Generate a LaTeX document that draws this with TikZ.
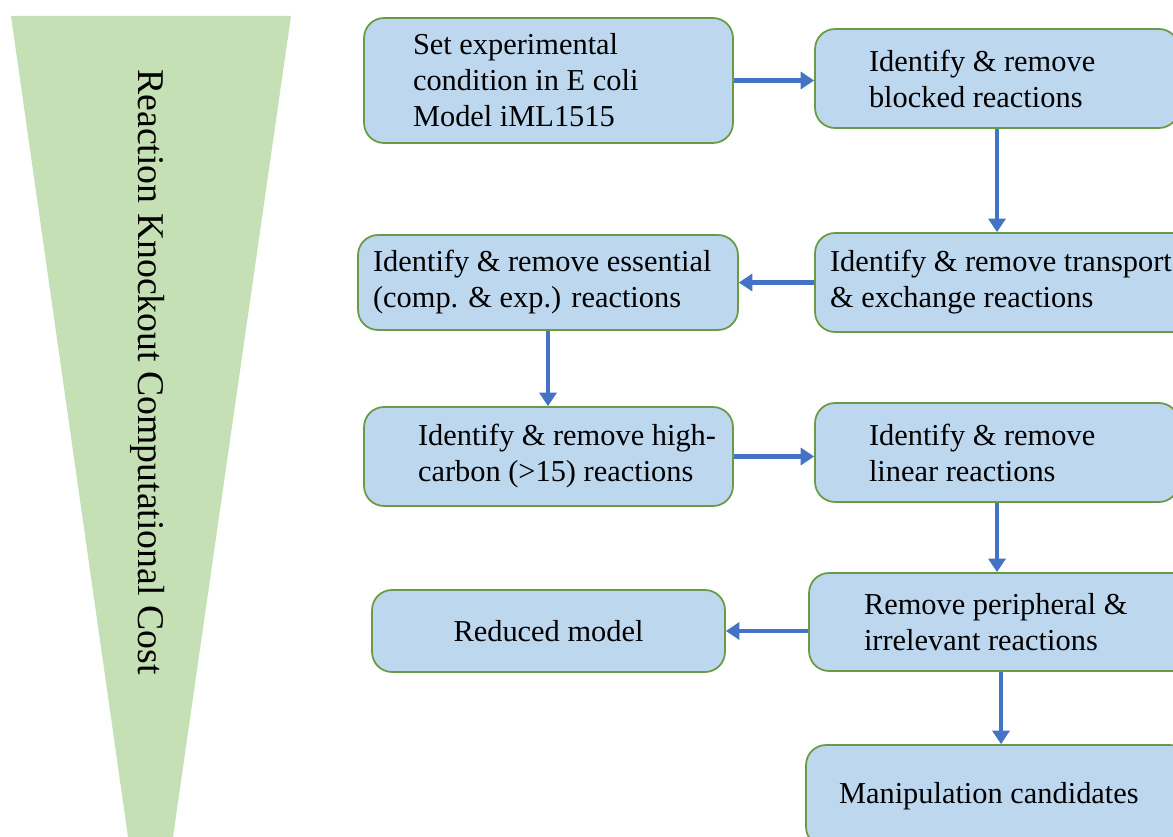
\documentclass[tikz,border=0pt]{standalone}
\usepackage{fontspec}
\setmainfont{Liberation Serif}
\usetikzlibrary{arrows.meta}

\definecolor{conefill}{HTML}{C5E0B4}
\definecolor{boxfill}{HTML}{BDD7EE}
\definecolor{boxline}{HTML}{6A9A45}
\definecolor{flowblue}{HTML}{4472C4}

\tikzset{
	box/.style={draw=boxline, fill=boxfill, line width=1pt, rounded corners=0.4cm,
		inner sep=0pt, align=flush left, font=\fontsize{17.3}{20.5}\selectfont},
	flow/.style={draw=flowblue, line width=2.4pt,
		-{Triangle[length=0.27cm,width=0.34cm]}}
}

\begin{document}
\begin{tikzpicture}[x=0.02cm,y=-0.02cm]
	
	\useasboundingbox (0,0) rectangle (1173,837);
	\clip (0,0) rectangle (1173,837);
	
	\fill[conefill] (11,16) -- (291,16) -- (173,837) -- (128,837) -- cycle;
	\node[rotate=-90, font=\fontsize{21.5}{24}\selectfont] (cost) at (148,372)
		{Reaction Knockout Computational Cost};
	
	\node[box, minimum width=7.38cm, minimum height=2.5cm, text width=5.42cm] (set) at (548.5,80.5)
		{Set experimental\\condition in E coli\\Model iML1515};
	\node[box, minimum width=7.28cm, minimum height=1.98cm, text width=5.12cm] (blocked) at (997,78.5)
		{Identify \& remove\\blocked reactions};
	\node[box, minimum width=7.6cm, minimum height=1.98cm, text width=7.0cm] (transport) at (1005,282.5)
		{\mbox{Identify \& remove transport}\\\& exchange reactions};
	\node[box, minimum width=7.6cm, minimum height=1.9cm, text width=7.0cm] (essential) at (548,282.5)
		{\mbox{Identify \& remove essential}\\(comp. \& exp.) reactions};
	\node[box, minimum width=7.38cm, minimum height=1.98cm, text width=5.22cm] (highc) at (548.5,456.5)
		{\mbox{Identify \& remove high-}\\\mbox{carbon (>15) reactions}};
	\node[box, minimum width=7.28cm, minimum height=1.98cm, text width=5.12cm] (linear) at (997,452.5)
		{Identify \& remove\\linear reactions};
	\node[box, minimum width=7.68cm, minimum height=1.96cm, text width=5.48cm] (periph) at (1001,622)
		{Remove peripheral \&\\irrelevant reactions};
	\node[box, align=center, minimum width=7.06cm, minimum height=1.64cm] (reduced) at (548.5,631)
		{Reduced model};
	\node[box, minimum width=7.68cm, minimum height=2.04cm, text width=6.36cm] (manip) at (998,796)
		{Manipulation candidates};
	
	\draw[flow] (set.east) -- (set.east -| blocked.west);
	\draw[flow] (blocked.south) -- (blocked.south |- transport.north);
	\draw[flow] (transport.west) -- (transport.west -| essential.east);
	\draw[flow] (essential.south) -- (essential.south |- highc.north);
	\draw[flow] (highc.east) -- (highc.east -| linear.west);
	\draw[flow] (linear.south) -- (linear.south |- periph.north);
	\draw[flow] (reduced.east -| periph.west) -- (reduced.east);
	\draw[flow] (periph.south) -- (periph.south |- manip.north);
	
\end{tikzpicture}
\end{document}
